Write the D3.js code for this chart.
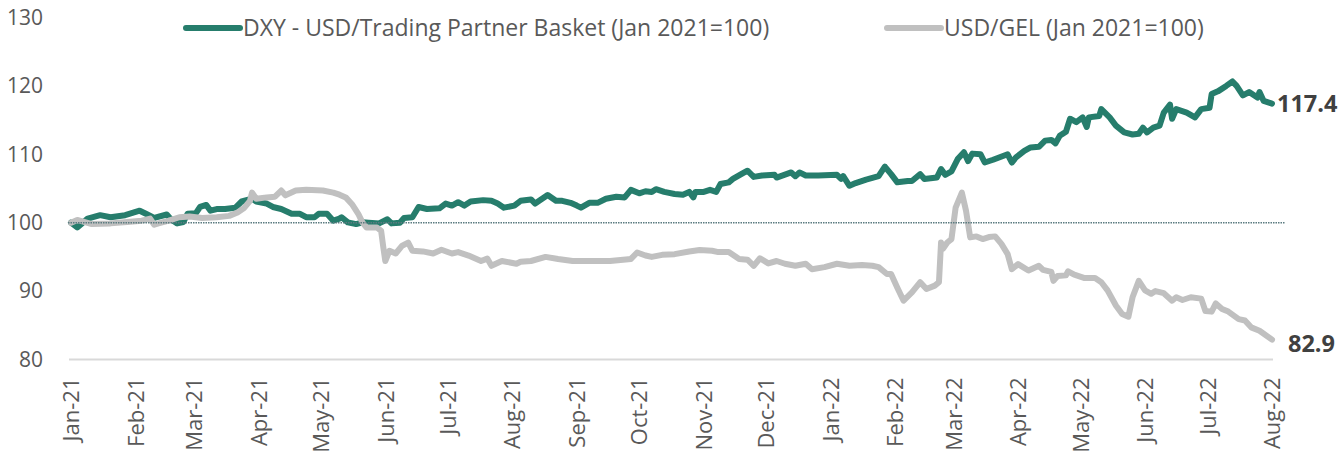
<!DOCTYPE html>
<html>
<head>
<meta charset="utf-8">
<script src="https://cdn.jsdelivr.net/npm/d3@7"></script>
<style>
  body { margin: 0; background: #fff; }
  text { font-family: "Open Sans", "Noto Sans", sans-serif; }
</style>
</head>
<body>
<div class="canvas"></div>
<script>
// series labels
const dxyName = 'DXY - USD/Trading Partner Basket (Jan 2021=100)';
const gelName = 'USD/GEL (Jan 2021=100)';

// DXY
const dxyDates = [
  '2021-01-01','2021-01-04','2021-01-09','2021-01-15','2021-01-20','2021-01-27','2021-02-03','2021-02-06',
  '2021-02-10','2021-02-16','2021-02-18','2021-02-21','2021-02-24','2021-02-26','2021-03-02','2021-03-04',
  '2021-03-07','2021-03-09','2021-03-12','2021-03-16','2021-03-21','2021-03-24','2021-03-29','2021-03-31',
  '2021-04-05','2021-04-08','2021-04-12','2021-04-17','2021-04-21','2021-04-24','2021-04-28','2021-04-30',
  '2021-05-04','2021-05-07','2021-05-10','2021-05-11','2021-05-14','2021-05-18','2021-05-21','2021-05-24',
  '2021-05-29','2021-06-02','2021-06-04','2021-06-08','2021-06-10','2021-06-14','2021-06-17','2021-06-21',
  '2021-06-27','2021-06-30','2021-07-03','2021-07-06','2021-07-09','2021-07-12','2021-07-18','2021-07-22',
  '2021-07-25','2021-07-28','2021-08-02','2021-08-05','2021-08-10','2021-08-12','2021-08-18','2021-08-22',
  '2021-08-25','2021-08-29','2021-09-01','2021-09-03','2021-09-07','2021-09-11','2021-09-15','2021-09-20',
  '2021-09-24','2021-09-27','2021-10-01','2021-10-04','2021-10-07','2021-10-09','2021-10-13','2021-10-18',
  '2021-10-22','2021-10-25','2021-10-27','2021-10-28','2021-11-01','2021-11-04','2021-11-07','2021-11-09',
  '2021-11-13','2021-11-15','2021-11-19','2021-11-22','2021-11-25','2021-11-29','2021-12-05','2021-12-06',
  '2021-12-13','2021-12-15','2021-12-17','2021-12-20','2021-12-26','2022-01-04','2022-01-06','2022-01-07',
  '2022-01-10','2022-01-13','2022-01-18','2022-01-24','2022-01-27','2022-01-30','2022-02-02','2022-02-07',
  '2022-02-09','2022-02-13','2022-02-15','2022-02-21','2022-02-23','2022-02-25','2022-02-28','2022-03-03',
  '2022-03-06','2022-03-08','2022-03-10','2022-03-14','2022-03-16','2022-03-20','2022-03-27','2022-03-29',
  '2022-03-31','2022-04-04','2022-04-07','2022-04-11','2022-04-14','2022-04-17','2022-04-19','2022-04-21',
  '2022-04-24','2022-04-26','2022-04-29','2022-05-02','2022-05-04','2022-05-05','2022-05-10','2022-05-11',
  '2022-05-15','2022-05-18','2022-05-22','2022-05-26','2022-05-29','2022-05-31','2022-06-02','2022-06-05',
  '2022-06-08','2022-06-10','2022-06-13','2022-06-14','2022-06-16','2022-06-21','2022-06-25','2022-06-28',
  '2022-07-02','2022-07-03','2022-07-06','2022-07-10','2022-07-13','2022-07-15','2022-07-18','2022-07-21',
  '2022-07-25','2022-07-26','2022-07-28','2022-08-01'
];
const dxyValues = [
  100.0, 99.3, 100.6, 101.1, 100.8, 101.1, 101.75, 101.3,
  100.7, 101.2, 100.5, 99.9, 100.1, 101.3, 101.4, 102.3,
  102.6, 101.75, 102.0, 102.0, 102.2, 103.1, 103.5, 103.1,
  102.8, 102.3, 102.0, 101.3, 101.3, 100.8, 100.8, 101.3,
  101.3, 100.3, 100.6, 100.8, 100.05, 99.8, 100.05, 100.0,
  99.9, 100.5, 99.9, 100.0, 100.7, 100.8, 102.3, 102.0,
  102.1, 102.8, 102.5, 103.0, 102.5, 103.1, 103.3, 103.2,
  102.8, 102.2, 102.5, 103.2, 103.4, 102.8, 104.05, 103.2,
  103.2, 102.9, 102.5, 102.2, 102.9, 102.9, 103.5, 103.8,
  103.7, 104.8, 104.3, 104.6, 104.5, 104.9, 104.5, 104.2,
  104.1, 104.5, 103.7, 104.5, 104.5, 104.8, 104.5, 105.65,
  105.9, 106.4, 107.1, 107.6, 106.7, 106.9, 107.0, 106.6,
  107.35, 106.8, 107.35, 106.9, 106.9, 107.0, 106.4, 106.8,
  105.4, 105.8, 106.3, 106.8, 108.2, 107.1, 105.9, 106.1,
  106.1, 107.1, 106.4, 106.6, 107.85, 107.0, 107.5, 109.3,
  110.3, 109.0, 110.1, 110.0, 108.8, 109.2, 110.0, 108.8,
  109.55, 110.5, 111.0, 111.1, 112.0, 112.1, 111.6, 112.7,
  113.3, 115.2, 114.7, 115.4, 114.0, 115.4, 115.6, 116.6,
  115.4, 114.2, 113.2, 112.9, 113.0, 113.9, 113.2, 113.9,
  114.2, 116.1, 117.25, 115.2, 116.6, 116.1, 115.4, 116.6,
  116.8, 118.8, 119.2, 120.0, 120.65, 120.0, 118.6, 119.1,
  118.3, 119.1, 117.8, 117.4
];

// USD/GEL
const gelDates = [
  '2021-01-01','2021-01-04','2021-01-11','2021-01-20','2021-01-28','2021-02-04','2021-02-08','2021-02-10',
  '2021-02-12','2021-02-17','2021-02-22','2021-02-27','2021-03-05','2021-03-12','2021-03-18','2021-03-22',
  '2021-03-25','2021-03-28','2021-03-29','2021-03-31','2021-04-05','2021-04-09','2021-04-12','2021-04-14',
  '2021-04-19','2021-04-24','2021-05-02','2021-05-07','2021-05-10','2021-05-13','2021-05-16','2021-05-19',
  '2021-05-21','2021-05-23','2021-05-28','2021-05-30','2021-05-31','2021-06-01','2021-06-03','2021-06-06',
  '2021-06-09','2021-06-12','2021-06-14','2021-06-19','2021-06-24','2021-06-28','2021-07-03','2021-07-06',
  '2021-07-11','2021-07-17','2021-07-20','2021-07-22','2021-07-27','2021-08-03','2021-08-05','2021-08-10',
  '2021-08-17','2021-08-23','2021-08-30','2021-09-05','2021-09-11','2021-09-17','2021-09-27','2021-09-30',
  '2021-10-04','2021-10-07','2021-10-12','2021-10-18','2021-10-25','2021-10-30','2021-11-05','2021-11-08',
  '2021-11-13','2021-11-18','2021-11-22','2021-11-25','2021-11-28','2021-12-02','2021-12-06','2021-12-10',
  '2021-12-15','2021-12-20','2021-12-23','2021-12-29','2022-01-04','2022-01-10','2022-01-16','2022-01-21',
  '2022-01-24','2022-01-28','2022-01-30','2022-02-02','2022-02-05','2022-02-09','2022-02-13','2022-02-16',
  '2022-02-20','2022-02-22','2022-02-23','2022-02-24','2022-02-26','2022-02-28','2022-03-02','2022-03-05',
  '2022-03-07','2022-03-09','2022-03-12','2022-03-15','2022-03-18','2022-03-21','2022-03-24','2022-03-27',
  '2022-03-29','2022-04-01','2022-04-06','2022-04-11','2022-04-13','2022-04-17','2022-04-18','2022-04-20',
  '2022-04-24','2022-04-25','2022-04-28','2022-05-03','2022-05-08','2022-05-11','2022-05-14','2022-05-18',
  '2022-05-21','2022-05-24','2022-05-26','2022-05-29','2022-06-01','2022-06-04','2022-06-06','2022-06-10',
  '2022-06-14','2022-06-16','2022-06-19','2022-06-23','2022-06-28','2022-06-30','2022-07-03','2022-07-05',
  '2022-07-08','2022-07-11','2022-07-16','2022-07-19','2022-07-22','2022-07-26','2022-08-01'
];
const gelValues = [
  100.0, 100.4, 99.8, 99.9, 100.1, 100.3, 100.6, 99.7,
  99.9, 100.3, 100.8, 100.9, 100.7, 100.8, 101.0, 101.5,
  102.1, 103.2, 104.4, 103.5, 103.7, 103.8, 104.7, 104.0,
  104.7, 104.8, 104.7, 104.4, 104.1, 103.7, 102.7, 101.3,
  100.05, 99.3, 99.3, 98.8, 96.5, 94.4, 95.9, 95.5,
  96.6, 97.1, 95.9, 95.8, 95.5, 96.05, 95.5, 95.7,
  95.2, 94.4, 94.75, 93.7, 94.4, 94.0, 94.3, 94.4,
  95.0, 94.7, 94.4, 94.4, 94.4, 94.4, 94.7, 95.65,
  95.2, 95.0, 95.3, 95.4, 95.8, 96.0, 95.9, 95.7,
  95.7, 94.7, 94.6, 93.7, 94.8, 94.05, 94.4, 94.0,
  93.7, 94.0, 93.2, 93.5, 94.0, 93.7, 93.8, 93.7,
  93.5, 92.5, 92.5, 90.5, 88.6, 89.8, 91.3, 90.3,
  90.8, 91.3, 97.1, 96.2, 97.1, 97.6, 102.2, 104.4,
  101.75, 97.85, 98.0, 97.6, 97.9, 98.0, 96.9, 95.4,
  93.2, 93.95, 93.0, 93.7, 93.1, 92.8, 91.5, 92.2,
  92.3, 92.9, 92.4, 91.9, 91.9, 91.3, 90.1, 87.9,
  86.65, 86.25, 89.1, 91.5, 90.1, 89.6, 90.0, 89.7,
  88.6, 89.1, 88.7, 89.1, 88.9, 87.1, 87.0, 88.2,
  87.4, 87.0, 85.9, 85.7, 84.7, 84.2, 82.9
];

// axis
const yTicks = [80, 90, 100, 110, 120, 130];
const monthTicks = [
  '2021-01-01','2021-02-01','2021-03-01','2021-04-01','2021-05-01','2021-06-01','2021-07-01',
  '2021-08-01','2021-09-01','2021-10-01','2021-11-01','2021-12-01','2022-01-01','2022-02-01',
  '2022-03-01','2022-04-01','2022-05-01','2022-06-01','2022-07-01','2022-08-01'
];
const baseLevel = 100;
const endLabels = ['117.4', '82.9'];

const dimensions = { width: 1339, height: 455 };
const colours = { dxy: '#267d6c', gel: '#c0c0c0', text: '#595959', label: '#404040' };
const fontSize = { yAxis: 21, xAxis: 22, legend: 23, label: 23.5 };

const parse = d3.timeParse('%Y-%m-%d');
const dxy = dxyDates.map((d, i) => ({ date: parse(d), value: dxyValues[i] }));
const gel = gelDates.map((d, i) => ({ date: parse(d), value: gelValues[i] }));

const svg = d3
  .select('.canvas')
  .append('svg')
  .attr('width', dimensions.width)
  .attr('height', dimensions.height);

const x = d3
  .scaleTime()
  .domain([parse(monthTicks[0]), parse(monthTicks[monthTicks.length - 1])])
  .range([71, 1272]);

const y = d3.scaleLinear().domain([80, 130]).range([359.5, 17.5]);

// y axis labels
const yAxis = d3.axisLeft(y).tickValues(yTicks).tickSize(0).tickPadding(0);
svg
  .append('g')
  .attr('transform', 'translate(43, 0)')
  .call(yAxis)
  .call((g) => g.select('.domain').remove())
  .selectAll('text')
  .attr('font-size', fontSize.yAxis)
  .attr('font-family', '"Open Sans", sans-serif')
  .attr('fill', colours.text);

// bottom line at 80
svg
  .append('line')
  .attr('x1', x.range()[0] - 2)
  .attr('x2', x.range()[1] + 1)
  .attr('y1', y(80))
  .attr('y2', y(80))
  .attr('stroke', '#d9d9d9')
  .attr('stroke-width', 2);

// x axis labels (rotated)
const xAxis = d3
  .axisBottom(x)
  .tickValues(monthTicks.map(parse))
  .tickFormat(d3.timeFormat('%b-%y'))
  .tickSize(0);
svg
  .append('g')
  .attr('transform', `translate(0, ${y(80)})`)
  .call(xAxis)
  .call((g) => g.select('.domain').remove())
  .selectAll('text')
  .attr('font-size', fontSize.xAxis)
  .attr('font-family', '"Open Sans", sans-serif')
  .attr('fill', colours.text)
  .attr('text-anchor', 'end')
  .attr('transform', 'rotate(-90)')
  .attr('x', -18)
  .attr('y', 0)
  .attr('dy', '0.35em');

const line = d3
  .line()
  .x((d) => x(d.date))
  .y((d) => y(d.value));

svg
  .append('path')
  .datum(dxy)
  .attr('fill', 'none')
  .attr('stroke', colours.dxy)
  .attr('stroke-width', 6)
  .attr('stroke-linejoin', 'round')
  .attr('stroke-linecap', 'round')
  .attr('d', line);

svg
  .append('path')
  .datum(gel)
  .attr('fill', 'none')
  .attr('stroke', colours.gel)
  .attr('stroke-width', 6)
  .attr('stroke-linejoin', 'round')
  .attr('stroke-linecap', 'round')
  .attr('d', line);

// dotted reference at 100
svg
  .append('line')
  .attr('x1', x.range()[0] - 3)
  .attr('x2', x.range()[1] + 13)
  .attr('y1', y(baseLevel))
  .attr('y2', y(baseLevel))
  .attr('stroke', '#5b7b80')
  .attr('stroke-width', 1.5)
  .attr('stroke-dasharray', '1.5,1');

// end labels
const lastDxy = dxy[dxy.length - 1];
const lastGel = gel[gel.length - 1];
svg
  .append('text')
  .attr('x', x(lastDxy.date) + 5)
  .attr('y', y(lastDxy.value))
  .attr('dy', '0.35em')
  .attr('font-size', fontSize.label)
  .attr('font-weight', 'bold')
  .attr('fill', colours.label)
  .text(endLabels[0]);
svg
  .append('text')
  .attr('x', x(lastGel.date) + 16)
  .attr('y', y(lastGel.value) + 4)
  .attr('dy', '0.35em')
  .attr('font-size', fontSize.label)
  .attr('font-weight', 'bold')
  .attr('fill', colours.label)
  .text(endLabels[1]);

// legend
const legendItems = [
  { name: dxyName, colour: colours.dxy, x: 186 },
  { name: gelName, colour: colours.gel, x: 887 },
];
const legend = svg
  .selectAll('.legend')
  .data(legendItems)
  .enter()
  .append('g')
  .attr('class', 'legend')
  .attr('transform', (d) => `translate(${d.x}, 28)`);
legend
  .append('line')
  .attr('x1', 0)
  .attr('x2', 54)
  .attr('stroke', (d) => d.colour)
  .attr('stroke-width', 6)
  .attr('stroke-linecap', 'round');
legend
  .append('text')
  .attr('x', 57)
  .attr('dy', '0.35em')
  .attr('font-size', fontSize.legend)
  .attr('fill', colours.text)
  .text((d) => d.name);
</script>
</body>
</html>
